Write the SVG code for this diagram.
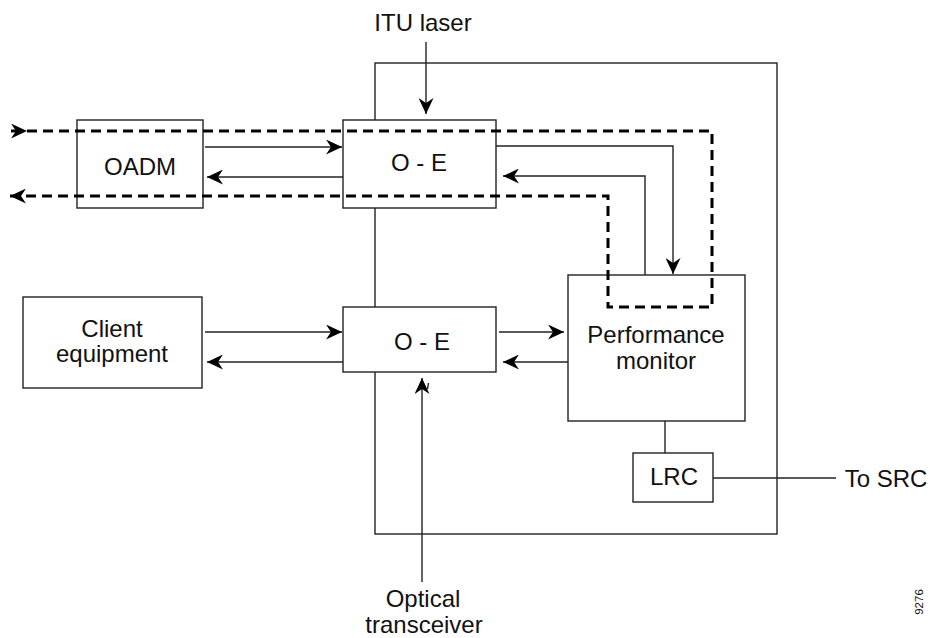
<svg xmlns="http://www.w3.org/2000/svg" width="930" height="638" viewBox="0 0 930 638">
<style>
.box{fill:#fff;stroke:#222;stroke-width:1.4}
.ln{fill:none;stroke:#222;stroke-width:1.4}
.dash{fill:none;stroke:#000;stroke-width:3;stroke-dasharray:10 6}
.t{font-family:"Liberation Sans",Arial,sans-serif;font-size:24px;fill:#111;text-anchor:middle}
</style>
<defs>
<marker id="arr" viewBox="0 0 16 15" refX="16" refY="7.5" markerWidth="16" markerHeight="15" orient="auto" markerUnits="userSpaceOnUse">
<path d="M0,0 L16,7.5 L0,15 L5,7.5 z" fill="#000"/>
</marker>
<marker id="arrS" viewBox="0 0 16 15" refX="0" refY="7.5" markerWidth="16" markerHeight="15" orient="auto" markerUnits="userSpaceOnUse">
<path d="M0,0 L16,7.5 L0,15 L5,7.5 z" fill="#000"/>
</marker>
</defs>
<rect width="930" height="638" fill="#fff"/>

<g id="system">
<rect x="375" y="63" width="402" height="471" fill="none" stroke="#222" stroke-width="1.4"/>
</g>

<g id="oadm">
<rect class="box" x="77" y="120" width="126" height="88"/>
<text class="t" x="140" y="175">OADM</text>
</g>

<g id="oe-top">
<rect class="box" x="343" y="120" width="153" height="88"/>
<text class="t" x="419" y="171">O - E</text>
</g>

<g id="client">
<rect class="box" x="23" y="297" width="179" height="91"/>
<text class="t" x="112" y="337">Client</text>
<text class="t" x="112" y="362">equipment</text>
</g>

<g id="oe-bottom">
<rect class="box" x="343" y="307" width="153" height="65"/>
<text class="t" x="422" y="350">O - E</text>
</g>

<g id="perf-monitor">
<rect class="box" x="568" y="275" width="177" height="146"/>
<text class="t" x="656" y="343">Performance</text>
<text class="t" x="656" y="369">monitor</text>
</g>

<g id="lrc">
<rect class="box" x="633" y="453" width="80" height="49"/>
<text class="t" x="674" y="485">LRC</text>
</g>

<g id="labels">
<text class="t" x="423" y="31">ITU laser</text>
<text class="t" x="886" y="487">To SRC</text>
<text class="t" x="423" y="607">Optical</text>
<text class="t" x="424" y="633">transceiver</text>
<text x="923" y="602" font-family="'Liberation Sans',Arial,sans-serif" font-size="11.5" fill="#111" text-anchor="middle" transform="rotate(-90 923 602)">9276</text>
</g>

<g id="connectors">
<path class="ln" d="M205,147 H342" marker-end="url(#arr)"/>
<path class="ln" d="M343,177 H207" marker-end="url(#arr)"/>
<path class="ln" d="M205,332 H342" marker-end="url(#arr)"/>
<path class="ln" d="M343,362 H207" marker-end="url(#arr)"/>
<path class="ln" d="M499,332 H564" marker-end="url(#arr)"/>
<path class="ln" d="M568,362 H503" marker-end="url(#arr)"/>
<path class="ln" d="M496,146 H673 V274" marker-end="url(#arr)"/>
<path class="ln" d="M645,275 V176 H503" marker-end="url(#arr)"/>
<path class="ln" d="M426,42 V114" marker-end="url(#arr)"/>
<path class="ln" d="M422,582 V378" marker-end="url(#arr)"/>
<path class="ln" d="M665,421 V453"/>
<path class="ln" d="M713,478 H836"/>
<path class="ln" d="M428.5,383 L427.5,389"/>
<path class="dash" d="M11,131 H712 V307 H608 V196 H10" marker-start="url(#arrS)" marker-end="url(#arr)"/>
</g>
</svg>
